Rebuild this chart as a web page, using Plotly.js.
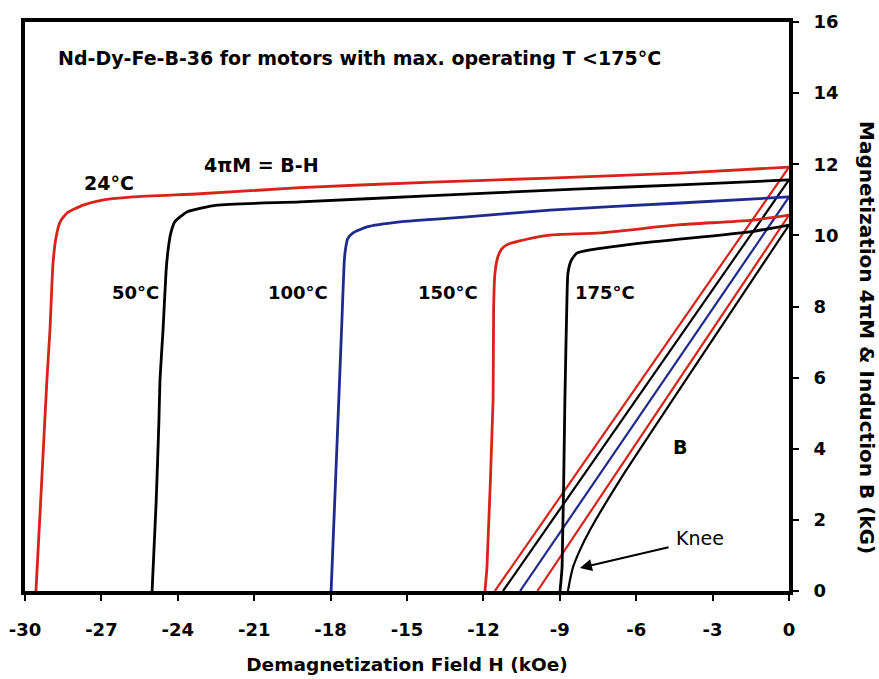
<!DOCTYPE html>
<html>
<head>
<meta charset="utf-8">
<script src="https://cdn.plot.ly/plotly-3.0.1.min.js"></script>
<style>html,body{margin:0;padding:0;background:#fff;}#chart{width:879px;height:679px;}</style>
</head>
<body>
<div id="chart"></div>
<script>
// Demagnetization field H (kOe) and magnetization 4πM (kG)
const h24 = [-29.57, -29.35, -29.14, -29.02, -28.90, -28.78, -28.62, -28.35, -27.72, -27.06, -25.76, -23.13, -19.20, -14.0, -9.39, -4.28, 0];
const m24 = [0, 3.0, 5.93, 7.34, 9.22, 9.95, 10.38, 10.63, 10.85, 10.98, 11.08, 11.17, 11.34, 11.5, 11.61, 11.75, 11.92];

const h50 = [-25.01, -24.85, -24.74, -24.70, -24.58, -24.46, -24.38, -24.28, -24.12, -23.64, -22.46, -19.20, -14.0, -8.4, -4.28, 0];
const m50 = [0, 2.5, 4.81, 5.93, 7.34, 9.0, 9.6, 10.05, 10.38, 10.66, 10.85, 10.94, 11.12, 11.3, 11.42, 11.56];

const h100 = [-17.98, -17.71, -17.55, -17.47, -17.42, -17.33, -17.12, -16.57, -15.28, -12.64, -9.39, -4.28, 0];
const m100 = [0, 4.81, 7.71, 9.2, 9.59, 9.9, 10.07, 10.24, 10.38, 10.52, 10.71, 10.91, 11.08];

const h150 = [-11.94, -11.86, -11.62, -11.60, -11.55, -11.45, -11.30, -11.07, -10.05, -9.39, -7.42, -4.28, -1.53, 0];
const m150 = [0, 0.67, 5.37, 7.9, 8.9, 9.35, 9.6, 9.74, 9.93, 10.01, 10.07, 10.3, 10.42, 10.57];

const h175 = [-8.99, -8.91, -8.80, -8.72, -8.68, -8.55, -8.33, -7.81, -5.46, -1.53, 0];
const m175 = [0, 0.67, 5.37, 8.18, 8.94, 9.3, 9.50, 9.59, 9.81, 10.10, 10.29];

// Induction B (kG) lines
const hB24 = [-11.55, 0];     const b24 = [0, 11.92];
const hB50 = [-11.23, 0];     const b50 = [0, 11.56];
const hB100 = [-10.56, 0];    const b100 = [0, 11.08];
const hB150 = [-9.88, 0];     const b150 = [0, 10.57];
const hB175 = [-8.68, -8.60, -8.48, -8.21, -7.81, -6.64, 0];
const b175 = [0, 0.31, 0.67, 1.15, 1.72, 3.12, 10.29];

const xTickVals = [-30, -27, -24, -21, -18, -15, -12, -9, -6, -3, 0];
const xTickText = ['-30', '-27', '-24', '-21', '-18', '-15', '-12', '-9', '-6', '-3', '0'];
const yTickVals = [0, 2, 4, 6, 8, 10, 12, 14, 16];

const RED = '#d8231a', BLUE = '#1f2a8c', BLACK = '#000000';
const FONT = 'DejaVu Sans, Arial, sans-serif';

function tr(x, y, color, w, shape) {
  return {x: x, y: y, type: 'scatter', mode: 'lines',
    line: {color: color, width: w, shape: shape || 'spline', smoothing: 0.5},
    hoverinfo: 'skip', showlegend: false};
}

const data = [
  tr(hB24, b24, RED, 2.2, 'linear'),
  tr(hB50, b50, BLACK, 2.2, 'linear'),
  tr(hB100, b100, BLUE, 2.2, 'linear'),
  tr(hB150, b150, RED, 2.2, 'linear'),
  tr(hB175, b175, BLACK, 2.2),
  tr(h24, m24, RED, 2.8),
  tr(h50, m50, BLACK, 2.8),
  tr(h100, m100, BLUE, 2.8),
  tr(h150, m150, RED, 2.8),
  tr(h175, m175, BLACK, 2.8)
];

function lab(text, x, y, size, extra) {
  return Object.assign({text: text, x: x, y: y, xref: 'x', yref: 'y', showarrow: false,
    xanchor: 'center', yanchor: 'middle',
    font: {family: FONT, size: size, color: '#000', weight: 'bold'}}, extra || {});
}

const layout = {
  width: 879, height: 679,
  margin: {l: 25, r: 90, t: 22, b: 88},
  paper_bgcolor: '#fff', plot_bgcolor: '#fff',
  font: {family: FONT, color: '#000'},
  xaxis: {
    range: [-30, 0], tickvals: xTickVals, ticktext: xTickText,
    ticks: 'outside', ticklen: 6, tickwidth: 2, tickcolor: '#000',
    showline: true, linewidth: 4, linecolor: '#000', mirror: true,
    showgrid: false, zeroline: false, ticklabelstandoff: 13,
    tickfont: {family: FONT, size: 18, weight: 'bold', color: '#000'},
    title: {text: 'Demagnetization Field H (kOe)', standoff: 20,
      font: {family: FONT, size: 18.5, weight: 'bold', color: '#000'}}
  },
  yaxis: {
    range: [0, 16], tickvals: yTickVals, side: 'right',
    ticks: 'outside', ticklen: 6, tickwidth: 2, tickcolor: '#000',
    showline: true, linewidth: 4, linecolor: '#000', mirror: true,
    showgrid: false, zeroline: false, ticklabelstandoff: 11,
    tickfont: {family: FONT, size: 18, weight: 'bold', color: '#000'}
  },
  annotations: [
    lab('Nd-Dy-Fe-B-36 for motors with max. operating T <175°C', -16.88, 15.0, 19),
    lab('24°C', -26.70, 11.47, 19),
    lab('4πM = B-H', -20.73, 11.97, 19),
    lab('50°C', -25.68, 8.38, 18),
    lab('100°C', -19.28, 8.38, 18),
    lab('150°C', -13.39, 8.38, 18),
    lab('175°C', -7.23, 8.38, 18),
    lab('B', -4.28, 4.05, 19),
    lab('Knee', -3.49, 1.49, 19, {font: {family: FONT, size: 19, color: '#000'}}),
    {x: -8.21, y: 0.65, ax: -4.67, ay: 1.24, xref: 'x', yref: 'y', axref: 'x', ayref: 'y',
      text: '', showarrow: true, arrowhead: 2, arrowsize: 1.2, arrowwidth: 2, arrowcolor: '#000'},
    {text: 'Magnetization 4πM & Induction B (kG)', xref: 'paper', yref: 'paper',
      x: 1.102, y: 0.4446, textangle: 90, showarrow: false, xanchor: 'center', yanchor: 'middle',
      font: {family: FONT, size: 20, weight: 'bold', color: '#000'}}
  ]
};

Plotly.newPlot('chart', data, layout, {displayModeBar: false, staticPlot: true});
</script>
</body>
</html>
